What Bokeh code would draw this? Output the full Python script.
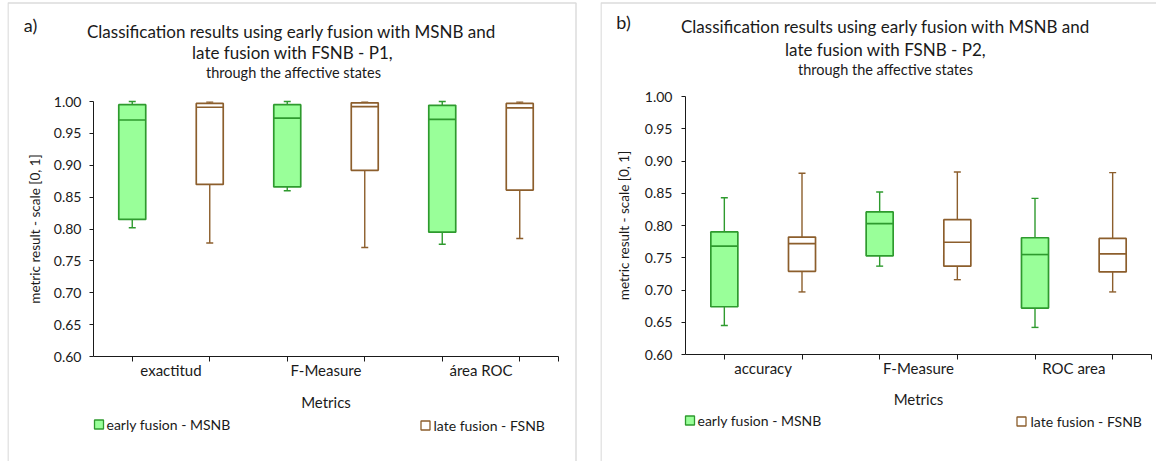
from bokeh.plotting import figure
from bokeh.models import (Range1d, FixedTicker, NumeralTickFormatter, ColumnDataSource,
                          Label, BoxAnnotation)
from bokeh.layouts import row
from bokeh.embed import file_html
from bokeh.resources import INLINE

# ---------------- data ----------------
series = ["early fusion - MSNB", "late fusion - FSNB"]

cats_a = ["exactitud", "F-Measure", "área ROC"]
a_early_min = [0.802, 0.860, 0.776]
a_early_q1 = [0.815, 0.866, 0.795]
a_early_med = [0.971, 0.974, 0.972]
a_early_q3 = [0.995, 0.995, 0.994]
a_early_max = [1.000, 1.000, 1.000]
a_late_min = [0.778, 0.771, 0.785]
a_late_q1 = [0.870, 0.892, 0.861]
a_late_med = [0.991, 0.992, 0.990]
a_late_q3 = [0.997, 0.998, 0.997]
a_late_max = [0.999, 0.999, 0.999]

cats_b = ["accuracy", "F-Measure", "ROC area"]
b_early_min = [0.645, 0.737, 0.642]
b_early_q1 = [0.674, 0.753, 0.672]
b_early_med = [0.768, 0.803, 0.755]
b_early_q3 = [0.790, 0.821, 0.781]
b_early_max = [0.843, 0.852, 0.842]
b_late_min = [0.697, 0.716, 0.697]
b_late_q1 = [0.729, 0.737, 0.728]
b_late_med = [0.772, 0.774, 0.756]
b_late_q3 = [0.782, 0.809, 0.780]
b_late_max = [0.881, 0.883, 0.882]

y_ticks = [0.60, 0.65, 0.70, 0.75, 0.80, 0.85, 0.90, 0.95, 1.00]
Y_MIN, Y_MAX = 0.60, 1.00

# ---------------- style ----------------
FONT = "Lato"
TXT = "#1a1a1a"
GREEN_FILL = "#99ff99"
GREEN_LINE = "#2e9a2e"
BROWN_LINE = "#8c5e2c"
BORDER = "#dcdcdc"
BOX_W = 0.174
CAP_W = 0.045
PAGE_TOP = 1        # page y where the figures start
FIG_H = 461
SWATCH = 9          # legend swatch size, px


def add_series(p, cats, offset, mins, q1, med, q3, maxs, fill, line):
    xs = [i + offset for i in range(len(cats))]
    src = ColumnDataSource(dict(
        x=xs, lo=mins, q1=q1, med=med, q3=q3, hi=maxs,
        bl=[x - BOX_W / 2 for x in xs], br=[x + BOX_W / 2 for x in xs],
        cl=[x - CAP_W / 2 for x in xs], cr=[x + CAP_W / 2 for x in xs],
    ))
    p.segment(x0="x", x1="x", y0="q3", y1="hi", source=src, line_color=line, line_width=1.4)
    p.segment(x0="x", x1="x", y0="lo", y1="q1", source=src, line_color=line, line_width=1.4)
    p.segment(x0="cl", x1="cr", y0="hi", y1="hi", source=src, line_color=line, line_width=1.4)
    p.segment(x0="cl", x1="cr", y0="lo", y1="lo", source=src, line_color=line, line_width=1.4)
    p.vbar(x="x", width=BOX_W, bottom="q1", top="q3", source=src,
           fill_color=fill, line_color=line, line_width=1.7)
    p.segment(x0="bl", x1="br", y0="med", y1="med", source=src, line_color=line, line_width=1.7)


def make_panel(letter, t1, t2, cats, early, late, L):
    fig_left = L["fig_left"]
    frame_l, frame_r = L["frame"]
    ax_l, ax_r = L["axis_x"]
    ax_t, ax_b = L["axis_y"]
    ncat = len(cats)
    sx = (ax_r - ax_l) / ncat
    sy = (ax_b - ax_t) / (Y_MAX - Y_MIN)
    fx = lambda px: (px - ax_l) / sx
    fy = lambda py: Y_MAX - (py - ax_t) / sy
    page_bottom = PAGE_TOP + FIG_H

    p = figure(width=L["width"], height=FIG_H, output_backend="svg", toolbar_location=None,
               x_range=Range1d(fx(frame_l), fx(frame_r)),
               y_range=Range1d(fy(page_bottom), fy(PAGE_TOP)),
               min_border_left=frame_l - fig_left,
               min_border_right=fig_left + L["width"] - frame_r,
               min_border_top=0, min_border_bottom=0,
               background_fill_color="white", border_fill_color="white")
    p.outline_line_color = None
    p.xgrid.visible = False
    p.ygrid.visible = False

    # y axis
    yax = p.yaxis[0]
    yax.fixed_location = 0
    yax.bounds = (Y_MIN, Y_MAX)
    yax.ticker = FixedTicker(ticks=y_ticks)
    yax.formatter = NumeralTickFormatter(format="0.00")
    yax.axis_label = "metric result - scale [0, 1]"
    yax.axis_label_text_font = FONT
    yax.axis_label_text_font_style = "normal"
    yax.axis_label_text_font_size = "13.5px"
    yax.axis_label_text_color = TXT
    yax.axis_label_standoff = L["ylab_standoff"]
    yax.major_label_text_font = FONT
    yax.major_label_text_font_size = "14px"
    yax.major_label_text_color = TXT
    yax.major_label_standoff = L["ytick_standoff"]
    yax.major_tick_out = 4
    yax.major_tick_in = 0
    yax.minor_tick_line_color = None
    yax.axis_line_color = TXT
    yax.major_tick_line_color = TXT

    # x axis
    xax = p.xaxis[0]
    xax.fixed_location = Y_MIN
    xax.bounds = (0, ncat)
    centers = [i + 0.5 for i in range(ncat)]
    minor = sorted([i + 0.25 for i in range(ncat)] + [i + 0.75 for i in range(ncat)] + [float(ncat)])
    xax.ticker = FixedTicker(ticks=centers, minor_ticks=minor)
    xax.major_label_overrides = {c: lab for c, lab in zip(centers, cats)}
    xax.major_tick_line_color = None
    xax.major_tick_out = 0
    xax.major_tick_in = 0
    xax.minor_tick_out = 5
    xax.minor_tick_in = 0
    xax.minor_tick_line_color = TXT
    xax.axis_line_color = TXT
    xax.major_label_text_font = FONT
    xax.major_label_text_font_size = "15px"
    xax.major_label_text_color = TXT
    xax.major_label_standoff = L["xtick_standoff"]
    xax.axis_label = "Metrics"
    xax.axis_label_text_font = FONT
    xax.axis_label_text_font_style = "normal"
    xax.axis_label_text_font_size = "15px"
    xax.axis_label_text_color = TXT
    xax.axis_label_standoff = L["xlab_standoff"]

    add_series(p, cats, 0.25, *early, GREEN_FILL, GREEN_LINE)
    add_series(p, cats, 0.75, *late, "white", BROWN_LINE)

    # legend: swatch + text for each series
    # (loc = page x of swatch centre, page y of swatch centre, page x of text start)
    for lab, fill, line, (gx, gy, tx) in ((series[0], GREEN_FILL, GREEN_LINE, L["leg1"]),
                                          (series[1], "white", BROWN_LINE, L["leg2"])):
        h = SWATCH / 2
        p.add_layout(BoxAnnotation(left=fx(gx - h), right=fx(gx + h),
                                   top=fy(gy - h), bottom=fy(gy + h),
                                   fill_color=fill, fill_alpha=1.0,
                                   line_color=line, line_alpha=1.0, line_width=1.3))
        p.add_layout(Label(x=fx(tx), y=fy(gy), text=lab, text_align="left",
                           text_baseline="middle", text_font=FONT,
                           text_font_size="14px", text_color=TXT))

    # titles
    for txt, (px, py), fs in ((t1, L["t1"], "17px"), (t2, L["t2"], "17px"),
                              ("through the affective states", L["t3"], "14.5px"),
                              (letter, L["letter"], "18px")):
        p.add_layout(Label(x=fx(px), y=fy(py), text=txt,
                           text_align="center", text_baseline="middle",
                           text_font=FONT, text_font_size=fs, text_color=TXT))

    # panel border (bottom runs past the figure)
    p.add_layout(BoxAnnotation(left=fx(frame_l + 0.5), right=fx(L["border_r"]),
                               top=fy(L["border_t"]), bottom=fy(page_bottom + 60),
                               fill_alpha=0, line_color=BORDER, line_alpha=1.0,
                               line_width=1.5, level="underlay"))
    return p


pa = make_panel(
    "a)", "Classification results using early fusion with MSNB and",
    "late fusion with FSNB - P1,", cats_a,
    (a_early_min, a_early_q1, a_early_med, a_early_q3, a_early_max),
    (a_late_min, a_late_q1, a_late_med, a_late_q3, a_late_max),
    dict(fig_left=0, width=598, frame=(7, 578), axis_x=(93, 558), axis_y=(102, 357),
         border_r=575.5, border_t=3.5,
         ylab_standoff=8, ytick_standoff=8, xtick_standoff=-1, xlab_standoff=11,
         leg1=(98.5, 425, 106), leg2=(425, 426, 433),
         t1=(291, 32), t2=(292, 53), t3=(293, 73), letter=(30, 25)))

pb = make_panel(
    "b)", "Classification results using early fusion with MSNB and",
    "late fusion with FSNB - P2,", cats_b,
    (b_early_min, b_early_q1, b_early_med, b_early_q3, b_early_max),
    (b_late_min, b_late_q1, b_late_med, b_late_q3, b_late_max),
    dict(fig_left=598, width=558, frame=(600, 1156), axis_x=(685, 1151), axis_y=(97, 355),
         border_r=1200, border_t=3.5,
         ylab_standoff=10, ytick_standoff=9, xtick_standoff=-1, xlab_standoff=10,
         leg1=(689.5, 421, 697), leg2=(1021, 422, 1030),
         t1=(885, 27), t2=(885, 50), t3=(885, 70), letter=(623, 22)))

layout = row(pa, pb, spacing=0)
open("out.html", "w").write(file_html(layout, INLINE))
